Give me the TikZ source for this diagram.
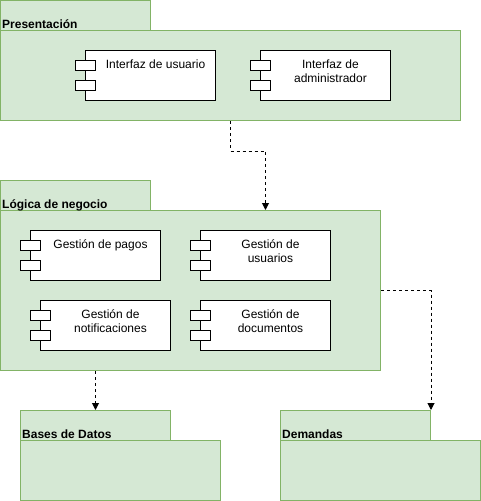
\documentclass[tikz,border=0pt]{standalone}
\usepackage{fontspec}
\setmainfont{Liberation Sans}
\usetikzlibrary{arrows.meta,positioning}
\definecolor{pkgfill}{HTML}{D5E8D4}
\definecolor{pkgline}{HTML}{82B366}
\begin{document}
\begin{tikzpicture}[
        x=1pt, y=-1pt,
        pkgtab/.style={rectangle, draw=pkgline, fill=pkgfill, line width=1pt, minimum width=150pt, minimum height=30pt, anchor=north west, inner sep=0pt},
        pkgbody/.style={rectangle, draw=pkgline, fill=pkgfill, line width=1pt, anchor=north west, inner sep=0pt},
        pkglabel/.style={anchor=base west, inner sep=0pt, font=\fontsize{12}{14}\selectfont\bfseries},
        comp/.style={rectangle, draw, fill=white, line width=1pt, minimum width=130pt, minimum height=50pt, anchor=north west, inner sep=0pt},
        port/.style={rectangle, draw, fill=white, line width=1pt, minimum width=20pt, minimum height=10pt, anchor=north, inner sep=0pt},
        comptext/.style={anchor=base, inner sep=0pt, align=center, font=\fontsize{12}{14}\selectfont},
        dep/.style={line width=1pt, dash pattern=on 3pt off 3pt, -{Triangle[length=7pt,width=7pt]}}
    ]
        \useasboundingbox (0,0) rectangle (481,501);

        % Package: Presentacion
        \node[pkgtab] (pres_tab) at (0,0) {};
        \node[pkgbody, minimum width=460pt, minimum height=90pt] (pres) at (0,30) {};
        \node[pkglabel] (pres_lbl) at ([xshift=2pt,yshift=3pt]pres_tab.south west) {Presentación};

        \node[comp] (iu) at (85,50) {};
        \node[port] (iu_p1) at ([yshift=-10pt]iu.north west) {};
        \node[port] (iu_p2) at ([yshift=-30pt]iu.north west) {};
        \node[comptext] (iu_lbl) at ([xshift=5pt,yshift=-18pt]iu.north) {Interfaz de usuario};

        \node[comp] (ia) at (260,50) {};
        \node[port] (ia_p1) at ([yshift=-10pt]ia.north west) {};
        \node[port] (ia_p2) at ([yshift=-30pt]ia.north west) {};
        \node[comptext] (ia_lbl) at ([xshift=5pt,yshift=-32pt]ia.north) {Interfaz de\\administrador};

        % Package: Logica de negocio
        \node[pkgtab] (logica_tab) at (0,180) {};
        \node[pkgbody, minimum width=380pt, minimum height=160pt] (logica) at (0,210) {};
        \node[pkglabel] (logica_lbl) at ([xshift=2pt,yshift=3pt]logica_tab.south west) {Lógica de negocio};

        \node[comp] (gpagos) at (30,230) {};
        \node[port] (gpagos_p1) at ([yshift=-10pt]gpagos.north west) {};
        \node[port] (gpagos_p2) at ([yshift=-30pt]gpagos.north west) {};
        \node[comptext] (gpagos_lbl) at ([xshift=5pt,yshift=-18pt]gpagos.north) {Gestión de pagos};

        \node[comp] (gusuarios) at (200,230) {};
        \node[port] (gusuarios_p1) at ([yshift=-10pt]gusuarios.north west) {};
        \node[port] (gusuarios_p2) at ([yshift=-30pt]gusuarios.north west) {};
        \node[comptext] (gusuarios_lbl) at ([xshift=5pt,yshift=-32pt]gusuarios.north) {Gestión de\\usuarios};

        \node[comp] (gnotif) at (40,300) {};
        \node[port] (gnotif_p1) at ([yshift=-10pt]gnotif.north west) {};
        \node[port] (gnotif_p2) at ([yshift=-30pt]gnotif.north west) {};
        \node[comptext] (gnotif_lbl) at ([xshift=5pt,yshift=-32pt]gnotif.north) {Gestión de\\notificaciones};

        \node[comp] (gdocs) at (200,300) {};
        \node[port] (gdocs_p1) at ([yshift=-10pt]gdocs.north west) {};
        \node[port] (gdocs_p2) at ([yshift=-30pt]gdocs.north west) {};
        \node[comptext] (gdocs_lbl) at ([xshift=5pt,yshift=-32pt]gdocs.north) {Gestión de\\documentos};

        % Package: Bases de Datos
        \node[pkgtab] (bases_tab) at (20,410) {};
        \node[pkgbody, minimum width=200pt, minimum height=60pt] (bases) at (20,440) {};
        \node[pkglabel] (bases_lbl) at ([xshift=2pt,yshift=3pt]bases_tab.south west) {Bases de Datos};

        % Package: Demandas
        \node[pkgtab] (dem_tab) at (280,410) {};
        \node[pkgbody, minimum width=200pt, minimum height=60pt] (dem) at (280,440) {};
        \node[pkglabel] (dem_lbl) at ([xshift=2pt,yshift=3pt]dem_tab.south west) {Demandas};

        % Dependencies
        \draw[dep] (pres.south) -- ++(0,30) -| ([xshift=75pt]logica.north);
        \draw[dep] (logica.south -| bases_tab.north) -- (bases_tab.north);
        \draw[dep] (logica.east) -| (dem_tab.north east);
    \end{tikzpicture}
\end{document}
